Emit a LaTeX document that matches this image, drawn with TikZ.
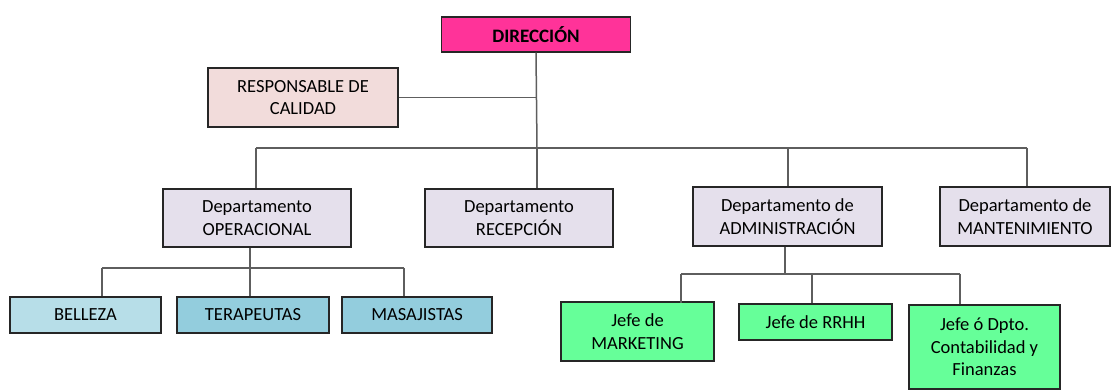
\documentclass[tikz,border=0pt]{standalone}
\usepackage{fontspec}
\setmainfont{Carlito}
\definecolor{dirc}{HTML}{FF3399}
\definecolor{calc}{HTML}{F2DCDB}
\definecolor{depc}{HTML}{E5E0EC}
\definecolor{belc}{HTML}{B7DEE8}
\definecolor{terc}{HTML}{93CDDD}
\definecolor{jefc}{HTML}{66FF99}
\definecolor{linec}{HTML}{5E5E5E}
\begin{document}
\begin{tikzpicture}[x=1pt,y=-1pt,
  box/.style={draw=black!85, line width=1.2pt, align=center, inner sep=0pt,
    font=\fontsize{18.5}{22.5}\selectfont},
  conn/.style={draw=linec, line width=1.5pt}]
\useasboundingbox[fill=white] (0,0) rectangle (1117,390);
% nodes
\node[box, fill=dirc, minimum width=189, minimum height=35] (dir) at (536,34.5) {\fontsize{19}{22}\selectfont\textbf{DIRECCIÓN}};
\node[box, fill=calc, minimum width=190, minimum height=59] (cal) at (303,97.5) {RESPONSABLE DE\\CALIDAD};
\node[box, fill=depc, minimum width=188, minimum height=58] (ops) at (257,218) {Departamento\\OPERACIONAL};
\node[box, fill=depc, minimum width=188, minimum height=58] (rec) at (519,218) {Departamento\\RECEPCIÓN};
\node[box, fill=depc, minimum width=189, minimum height=59] (adm) at (787.5,216.5) {Departamento de\\ADMINISTRACIÓN};
\node[box, fill=depc, minimum width=170, minimum height=59] (man) at (1025,216.5) {Departamento de\\MANTENIMIENTO};
\node[box, fill=belc, minimum width=151, minimum height=36] (bel) at (85.5,315) {BELLEZA};
\node[box, fill=terc, minimum width=152, minimum height=36] (ter) at (253,315) {TERAPEUTAS};
\node[box, fill=terc, minimum width=150, minimum height=36] (mas) at (417,315) {MASAJISTAS};
\node[box, fill=jefc, minimum width=153, minimum height=59] (mkt) at (637.5,331.5) {Jefe de\\MARKETING};
\node[box, fill=jefc, minimum width=153, minimum height=36] (rrh) at (815.5,322) {Jefe de RRHH};
\node[box, fill=jefc, minimum width=151, minimum height=84] (con) at (984.5,347) {Jefe ó Dpto.\\Contabilidad y\\Finanzas};
% bus coordinates
\coordinate (j1) at (537,148);
\coordinate (bL) at (256,148);
\coordinate (bA) at (788,148);
\coordinate (bR) at (1027,148);
\coordinate (o0) at (250,268);
\coordinate (oL) at (102,268);
\coordinate (oR) at (404,268);
\coordinate (a0) at (785,274);
\coordinate (aL) at (681,274);
\coordinate (aM) at (812,274);
\coordinate (aR) at (960,274);
% connectors
\draw[conn] (dir.south) -- (j1);
\draw[conn] (cal.east) -- (cal.east -| dir.south);
\draw[conn] (bL) -- (bR);
\draw[conn] (bL) -- (bL |- ops.north);
\draw[conn] (j1) -- (j1 |- rec.north);
\draw[conn] (bA) -- (bA |- adm.north);
\draw[conn] (bR) -- (bR |- man.north);
\draw[conn] (o0 |- ops.south) -- (o0);
\draw[conn] (oL) -- (oR);
\draw[conn] (oL) -- (oL |- bel.north);
\draw[conn] (o0) -- (o0 |- ter.north);
\draw[conn] (oR) -- (oR |- mas.north);
\draw[conn] (a0 |- adm.south) -- (a0);
\draw[conn] (aL) -- (aR);
\draw[conn] (aL) -- ([yshift=-2pt]aL |- mkt.north);
\draw[conn] (aM) -- (aM |- rrh.north);
\draw[conn] (aR) -- (aR |- con.north);
\end{tikzpicture}
\end{document}
